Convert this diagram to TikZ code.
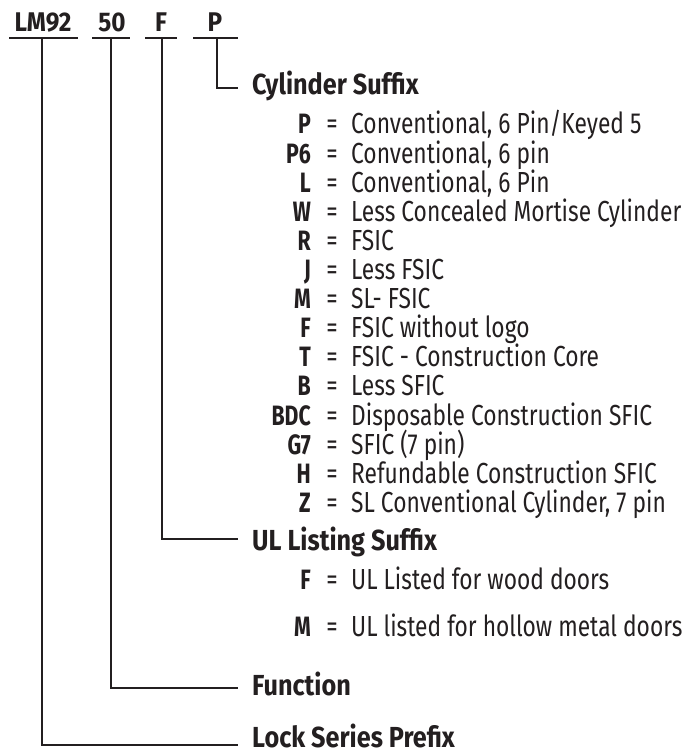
\documentclass[tikz,border=0pt]{standalone}
\usepackage{fontspec}
\setmainfont[FakeStretch=0.785]{Fira Sans}
\newfontfamily\bfam[FakeStretch=0.87]{Fira Sans}
\newfontfamily\cfam[FakeStretch=0.76]{Fira Sans}
\newfontfamily\tfam[FakeStretch=0.9]{Fira Sans}
\definecolor{ink}{HTML}{231F20}
\tikzset{
  txt/.style={inner sep=0pt, text=ink},
  codebox/.style={txt, anchor=base east, font=\cfam\bfseries\fontsize{28}{30}\selectfont},
  eqbox/.style={txt, anchor=base, font=\fontsize{29}{30}\selectfont},
  descbox/.style={txt, anchor=base west, font=\fontsize{29}{30}\selectfont},
  titlebox/.style={txt, anchor=base west, font=\bfam\bfseries\fontsize{29}{30}\selectfont},
  topbox/.style={txt, anchor=base, font=\tfam\bfseries\fontsize{27}{30}\selectfont},
  conn/.style={draw=ink, line width=2pt},
}
\begin{document}
\begin{tikzpicture}[x=1pt,y=-1pt]
\fill[white] (0,0) rectangle (688,754);
\useasboundingbox (0,0) rectangle (688,754);
% top code
\node[topbox] (tLM) at (43,32) {LM92};
\node[topbox] (t50) at (112,32) {50};
\node[topbox] (tF) at (161,32) {F};
\node[topbox] (tP) at (215,32) {P};
% underline coordinates
\coordinate (uLMa) at (9,38);   \coordinate (uLMb) at (78,38);
\coordinate (u50a) at (92,38);  \coordinate (u50b) at (130,38);
\coordinate (uFa) at (145,38);  \coordinate (uFb) at (177,38);
\coordinate (uPa) at (193,38);  \coordinate (uPb) at (238,38);
\draw[conn] (uLMa) -- (uLMb);
\draw[conn] (u50a) -- (u50b);
\draw[conn] (uFa) -- (uFb);
\draw[conn] (uPa) -- (uPb);
% stems
\coordinate (sLM) at (42,38);
\coordinate (s50) at (111,38);
\coordinate (sF) at (162,38);
\coordinate (sP) at (217,38);
% ends
\coordinate (eP) at (238,88);
\coordinate (eF) at (238,539);
\coordinate (e50) at (238,688);
\coordinate (eLM) at (238,745);
\draw[conn] (sP) |- (eP);
\draw[conn] (sF) |- (eF);
\draw[conn] (s50) |- (e50);
\draw[conn] (sLM) |- (eLM);
% titles
\node[titlebox] (cyl) at (252,95) {Cylinder Suffix};
\node[titlebox] (ul) at (252,550) {UL Listing Suffix};
\node[titlebox] (fun) at (252,695) {Function};
\node[titlebox] (lsp) at (252,747) {Lock Series Prefix};
% cylinder rows
\node[codebox] (c1) at (311,134) {P};   \node[eqbox] (q1) at (332,134) {=}; \node[descbox] (d1) at (351,134) {Conventional, 6 Pin/Keyed 5};
\node[codebox] (c2) at (311,163.1) {P6};  \node[eqbox] (q2) at (332,163.1) {=}; \node[descbox] (d2) at (351,163.1) {Conventional, 6 pin};
\node[codebox] (c3) at (311,192.2) {L};  \node[eqbox] (q3) at (332,192.2) {=}; \node[descbox] (d3) at (351,192.2) {Conventional, 6 Pin};
\node[codebox] (c4) at (311,221.3) {W};  \node[eqbox] (q4) at (332,221.3) {=}; \node[descbox] (d4) at (351,221.3) {Less Concealed Mortise Cylinder};
\node[codebox] (c5) at (311,250.4) {R};  \node[eqbox] (q5) at (332,250.4) {=}; \node[descbox] (d5) at (351,250.4) {FSIC};
\node[codebox] (c6) at (311,279.5) {J};  \node[eqbox] (q6) at (332,279.5) {=}; \node[descbox] (d6) at (351,279.5) {Less FSIC};
\node[codebox] (c7) at (311,308.6) {M};  \node[eqbox] (q7) at (332,308.6) {=}; \node[descbox] (d7) at (351,308.6) {SL- FSIC};
\node[codebox] (c8) at (311,337.7) {F};  \node[eqbox] (q8) at (332,337.7) {=}; \node[descbox] (d8) at (351,337.7) {FSIC without logo};
\node[codebox] (c9) at (311,366.8) {T};  \node[eqbox] (q9) at (332,366.8) {=}; \node[descbox] (d9) at (351,366.8) {FSIC - Construction Core};
\node[codebox] (c10) at (311,395.9) {B}; \node[eqbox] (q10) at (332,395.9) {=}; \node[descbox] (d10) at (351,395.9) {Less SFIC};
\node[codebox] (c11) at (311,425) {BDC}; \node[eqbox] (q11) at (332,425) {=}; \node[descbox] (d11) at (351,425) {Disposable Construction SFIC};
\node[codebox] (c12) at (311,454.1) {G7}; \node[eqbox] (q12) at (332,454.1) {=}; \node[descbox] (d12) at (351,454.1) {SFIC (7 pin)};
\node[codebox] (c13) at (311,483.2) {H}; \node[eqbox] (q13) at (332,483.2) {=}; \node[descbox] (d13) at (351,483.2) {Refundable Construction SFIC};
\node[codebox] (c14) at (311,512.3) {Z}; \node[eqbox] (q14) at (332,512.3) {=}; \node[descbox] (d14) at (351,512.3) {SL Conventional Cylinder, 7 pin};
% UL rows
\node[codebox] (u1) at (311,589) {F}; \node[eqbox] (uq1) at (332,589) {=}; \node[descbox] (ud1) at (351,589) {UL Listed for wood doors};
\node[codebox] (u2) at (311,636) {M}; \node[eqbox] (uq2) at (332,636) {=}; \node[descbox] (ud2) at (351,636) {UL listed for hollow metal doors};
\end{tikzpicture}
\end{document}
